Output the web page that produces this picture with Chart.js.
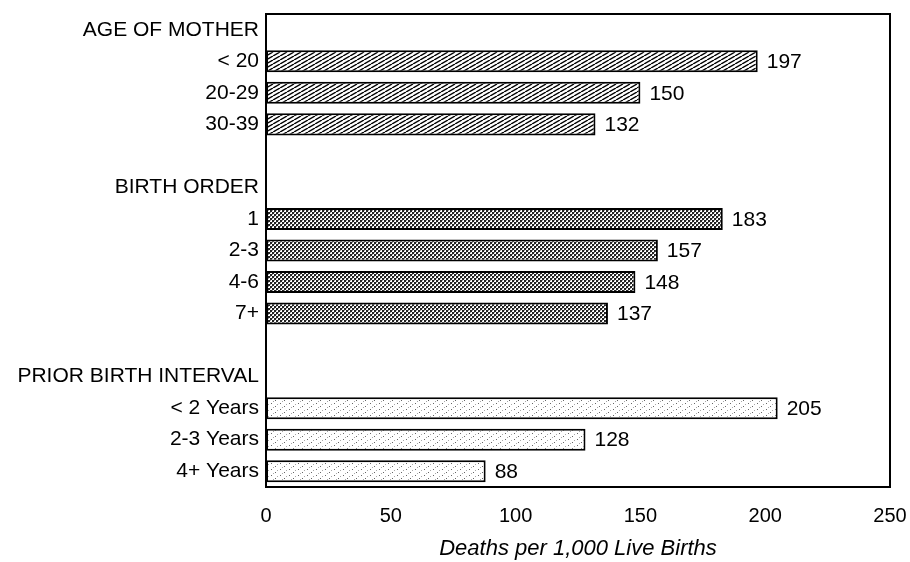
<!DOCTYPE html>
<html lang="en">
<head>
  <meta charset="UTF-8">
  <title>Deaths per 1,000 Live Births</title>
  <script src="https://cdn.jsdelivr.net/npm/chart.js"></script>
  <style>
    * {
      margin: 0;
      padding: 0;
      box-sizing: border-box;
    }

    body {
      background-color: #fff;
      width: 910px;
      height: 562px;
      overflow: hidden;
    }
  </style>
</head>
<body>
  <canvas id="deathsChart" width="910" height="562"></canvas>

  <script>
    // rows of the chart, group headers and blank spacer rows included
    const categories = [
      'AGE OF MOTHER', '< 20', '20-29', '30-39', '',
      'BIRTH ORDER', '1', '2-3', '4-6', '7+', '',
      'PRIOR BIRTH INTERVAL', '< 2 Years', '2-3 Years', '4+ Years'
    ];
    const ageOfMother = [197, 150, 132];
    const birthOrder = [183, 157, 148, 137];
    const birthInterval = [205, 128, 88];
    const xTicks = [0, 50, 100, 150, 200, 250];

    const labelFont = 'Liberation Sans, Arial, sans-serif';

    const makePattern = (w, h, draw) => {
      const c = document.createElement('canvas');
      c.width = w;
      c.height = h;
      const g = c.getContext('2d');
      g.fillStyle = '#fff';
      g.fillRect(0, 0, w, h);
      draw(g, w, h);
      return c.getContext('2d').createPattern(c, 'repeat');
    };

    // shallow "////" hatch
    const hatch = makePattern(7, 4, (g, w, h) => {
      g.strokeStyle = '#000';
      g.lineWidth = 1.4;
      for (const dx of [-w, 0, w]) {
        g.beginPath();
        g.moveTo(dx, h);
        g.lineTo(dx + w, 0);
        g.stroke();
      }
    });

    // dense checker for birth order
    const checker = makePattern(4, 4, (g) => {
      g.fillStyle = '#222';
      g.fillRect(0, 0, 2, 2);
      g.fillRect(2, 2, 2, 2);
      g.fillStyle = '#999';
      g.fillRect(2, 0, 1, 1);
      g.fillRect(0, 2, 1, 1);
    });

    // sparse dots
    const dots = makePattern(9, 6, (g) => {
      g.fillStyle = '#666';
      g.fillRect(1, 1, 1, 1);
      g.fillRect(5, 4, 1, 1);
      g.fillStyle = '#aaa';
      g.fillRect(7, 2, 1, 1);
      g.fillRect(3, 5, 1, 1);
    });

    const values = [
      null, ...ageOfMother, null,
      null, ...birthOrder, null,
      null, ...birthInterval
    ];
    const fills = [
      null, ...ageOfMother.map(() => hatch), null,
      null, ...birthOrder.map(() => checker), null,
      null, ...birthInterval.map(() => dots)
    ];

    const plotFrame = {
      id: 'plotFrame',
      afterDraw(chart) {
        const { ctx, chartArea: a } = chart;
        ctx.save();
        ctx.strokeStyle = '#000';
        ctx.lineWidth = 2;
        ctx.strokeRect(a.left, a.top, a.right - a.left, a.bottom - a.top);
        ctx.restore();
      }
    };

    const valueLabels = {
      id: 'valueLabels',
      afterDatasetsDraw(chart) {
        const { ctx } = chart;
        const meta = chart.getDatasetMeta(0);
        ctx.save();
        ctx.fillStyle = '#000';
        ctx.font = '21px ' + labelFont;
        ctx.textAlign = 'left';
        ctx.textBaseline = 'middle';
        meta.data.forEach((bar, i) => {
          const v = values[i];
          if (v === null) return;
          ctx.fillText(String(v), bar.x + 9, bar.y + 1);
        });
        ctx.restore();
      }
    };

    new Chart(document.getElementById('deathsChart').getContext('2d'), {
      type: 'bar',
      data: {
        labels: categories,
        datasets: [{
          data: values,
          backgroundColor: fills,
          borderColor: '#000',
          borderWidth: 2,
          borderSkipped: false,
          barPercentage: 0.7,
          categoryPercentage: 1
        }]
      },
      options: {
        indexAxis: 'y',
        responsive: false,
        animation: false,
        layout: {
          padding: { top: 14, right: 20, left: 0, bottom: 0 }
        },
        plugins: {
          legend: { display: false },
          tooltip: { enabled: false }
        },
        scales: {
          x: {
            min: 0,
            max: 250,
            afterBuildTicks: (s) => { s.ticks = xTicks.map(v => ({ value: v })); },
            afterFit: (s) => {
              s.height = 75;
              s.paddingLeft = 0;
              s.paddingRight = 0;
            },
            grid: { display: false, drawTicks: false },
            border: { display: true, color: '#000', width: 2 },
            ticks: {
              color: '#000',
              font: { family: labelFont, size: 20 },
              padding: 17,
              maxRotation: 0
            },
            title: {
              display: true,
              text: 'Deaths per 1,000 Live Births',
              color: '#000',
              font: { family: labelFont, size: 22, style: 'italic' },
              padding: { top: 0, bottom: 0 }
            }
          },
          y: {
            afterFit: (s) => {
              s.width = 266;
              s.paddingTop = 0;
              s.paddingBottom = 0;
            },
            grid: { display: false, drawTicks: false },
            border: { display: true, color: '#000', width: 2 },
            ticks: {
              color: '#000',
              font: { family: labelFont, size: 21 },
              padding: 7,
              autoSkip: false
            }
          }
        }
      },
      plugins: [plotFrame, valueLabels]
    });
  </script>
</body>
</html>
